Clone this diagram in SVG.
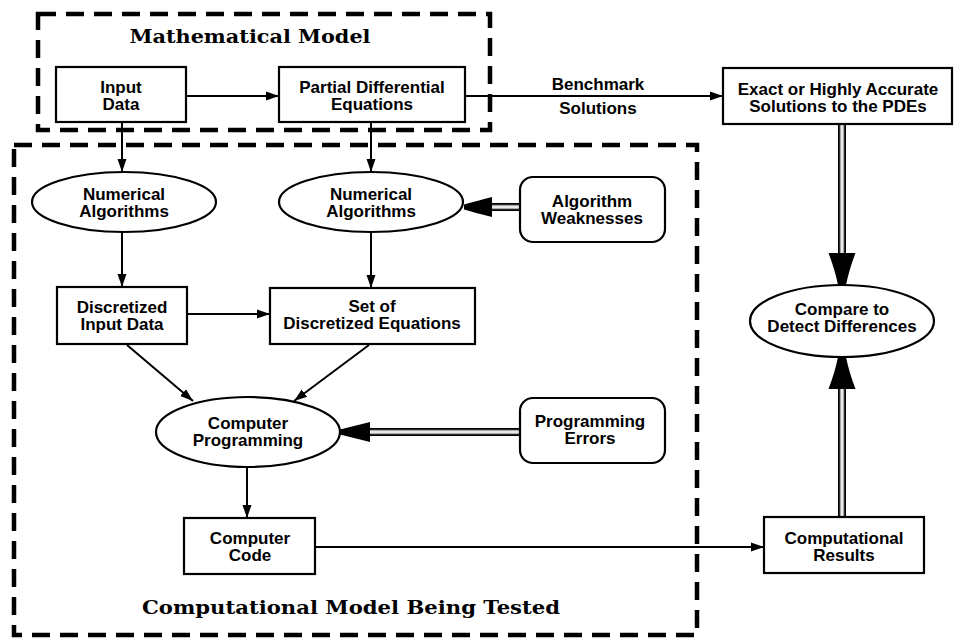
<svg xmlns="http://www.w3.org/2000/svg" width="956" height="640" viewBox="0 0 956 640">
<defs>
<marker id="ah" markerUnits="userSpaceOnUse" markerWidth="14" markerHeight="12" refX="13" refY="6" orient="auto"><path d="M0,1.5 L13,6 L0,10.5 Z" fill="#000"/></marker>
</defs>
<style>
.box{fill:#fff;stroke:#000;stroke-width:2.2}
.t{font-family:"Liberation Sans",Arial,sans-serif;font-weight:bold;font-size:17px;text-anchor:middle;fill:#000}
.title{font-family:"DejaVu Serif","Liberation Serif",serif;font-weight:bold;font-size:18px;text-anchor:middle;fill:#000}
.dash{fill:none;stroke:#000;stroke-width:4.5;stroke-dasharray:18 10}
.ln{stroke:#000;stroke-width:2;fill:none;marker-end:url(#ah)}
.dbo{stroke:#000;stroke-width:8;fill:none}
.dbi{stroke:#a8a8a8;stroke-width:4.5;fill:none}
.dbc{stroke:#fff;stroke-width:1.5;fill:none}
.head{fill:#000}
</style>
<rect width="956" height="640" fill="#fff"/>
<g id="math-model-frame">
<rect class="dash" x="38" y="14" width="452" height="116"/>
<text class="title" x="250" y="43" textLength="241" lengthAdjust="spacingAndGlyphs">Mathematical Model</text>
</g>
<g id="comp-model-frame">
<rect class="dash" x="14" y="145" width="683" height="490"/>
<text class="title" x="351" y="614" textLength="418" lengthAdjust="spacingAndGlyphs">Computational Model Being Tested</text>
</g>
<g id="connectors">
<line class="ln" x1="186" y1="96" x2="279" y2="96"/>
<line class="ln" x1="465" y1="96" x2="723" y2="96"/>
<text class="t" x="598" y="90">Benchmark</text>
<text class="t" x="598" y="114">Solutions</text>
<line class="ln" x1="122" y1="122" x2="122" y2="172"/>
<line class="ln" x1="371" y1="122" x2="371" y2="172"/>
<line class="ln" x1="122" y1="232" x2="122" y2="287"/>
<line class="ln" x1="371" y1="232" x2="371" y2="288"/>
<line class="ln" x1="187" y1="314" x2="270" y2="314"/>
<line class="ln" x1="127" y1="345" x2="193" y2="401"/>
<line class="ln" x1="369" y1="345" x2="294" y2="401"/>
<line class="ln" x1="247" y1="467" x2="247" y2="518"/>
<line class="ln" x1="315" y1="547" x2="764" y2="547"/>
<g id="dbl-aw">
<line class="dbo" x1="520" y1="207" x2="490" y2="207"/>
<line class="dbi" x1="520" y1="207" x2="490" y2="207"/>
<line class="dbc" x1="520" y1="207" x2="490" y2="207"/>
<path class="head" d="M492,197 L492,217 Q476,213 464,209.5 L464,204.5 Q476,201 492,197 Z"/>
</g>
<g id="dbl-pe">
<line class="dbo" x1="520" y1="432" x2="368" y2="432"/>
<line class="dbi" x1="520" y1="432" x2="368" y2="432"/>
<line class="dbc" x1="520" y1="432" x2="368" y2="432"/>
<path class="head" d="M370,422 L370,442 Q354,438 340,434.5 L340,429.5 Q354,426 370,422 Z"/>
</g>
<g id="dbl-exact">
<line class="dbo" x1="842" y1="124" x2="842" y2="256"/>
<line class="dbi" x1="842" y1="124" x2="842" y2="256"/>
<line class="dbc" x1="842" y1="124" x2="842" y2="256"/>
<path class="head" d="M828.5,253 L855.5,253 Q849,270 846,285 L838,285 Q835,270 828.5,253 Z"/>
</g>
<g id="dbl-results">
<line class="dbo" x1="842" y1="517" x2="842" y2="386"/>
<line class="dbi" x1="842" y1="517" x2="842" y2="386"/>
<line class="dbc" x1="842" y1="517" x2="842" y2="386"/>
<path class="head" d="M828.5,389 L855.5,389 Q849,372 846,357 L838,357 Q835,372 828.5,389 Z"/>
</g>
</g>
<g id="input-data">
<rect class="box" x="56" y="67" width="130" height="55"/>
<text class="t" x="121" y="92.5">Input</text>
<text class="t" x="121" y="110">Data</text>
</g>
<g id="pde">
<rect class="box" x="279" y="67" width="186" height="55"/>
<text class="t" x="372" y="92.5">Partial Differential</text>
<text class="t" x="372" y="110">Equations</text>
</g>
<g id="exact-solutions">
<rect class="box" x="723" y="68" width="229" height="56"/>
<text class="t" x="838" y="94.5">Exact or Highly Accurate</text>
<text class="t" x="838" y="112">Solutions to the PDEs</text>
</g>
<g id="numerical-algorithms-1">
<ellipse class="box" cx="124" cy="202" rx="92" ry="30"/>
<text class="t" x="124" y="199.5">Numerical</text>
<text class="t" x="124" y="217">Algorithms</text>
</g>
<g id="numerical-algorithms-2">
<ellipse class="box" cx="371" cy="202" rx="92" ry="30"/>
<text class="t" x="371" y="199.5">Numerical</text>
<text class="t" x="371" y="217">Algorithms</text>
</g>
<g id="algorithm-weaknesses">
<rect class="box" x="520" y="177" width="145" height="65" rx="13"/>
<text class="t" x="592" y="206.5">Algorithm</text>
<text class="t" x="592" y="224">Weaknesses</text>
</g>
<g id="discretized-input-data">
<rect class="box" x="57" y="287" width="130" height="57"/>
<text class="t" x="122" y="312.5">Discretized</text>
<text class="t" x="122" y="330">Input Data</text>
</g>
<g id="discretized-equations">
<rect class="box" x="270" y="288" width="205" height="56"/>
<text class="t" x="372" y="311.5">Set of</text>
<text class="t" x="372" y="329">Discretized Equations</text>
</g>
<g id="computer-programming">
<ellipse class="box" cx="248" cy="432" rx="92" ry="35"/>
<text class="t" x="248" y="428.5">Computer</text>
<text class="t" x="248" y="446">Programming</text>
</g>
<g id="programming-errors">
<rect class="box" x="520" y="398" width="145" height="65" rx="13"/>
<text class="t" x="590" y="426.5">Programming</text>
<text class="t" x="590" y="444">Errors</text>
</g>
<g id="compare">
<ellipse class="box" cx="842" cy="321" rx="92" ry="36"/>
<text class="t" x="842" y="314.5">Compare to</text>
<text class="t" x="842" y="332">Detect Differences</text>
</g>
<g id="computer-code">
<rect class="box" x="184" y="518" width="131" height="56"/>
<text class="t" x="250" y="543.5">Computer</text>
<text class="t" x="250" y="561">Code</text>
</g>
<g id="computational-results">
<rect class="box" x="764" y="517" width="160" height="56"/>
<text class="t" x="844" y="543.5">Computational</text>
<text class="t" x="844" y="561">Results</text>
</g>
</svg>
